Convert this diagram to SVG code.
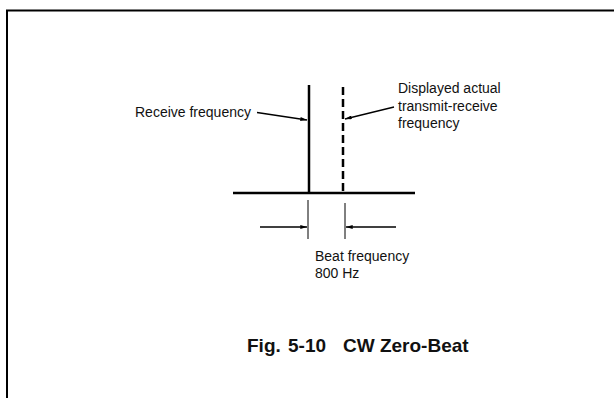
<svg xmlns="http://www.w3.org/2000/svg" width="614" height="398" viewBox="0 0 614 398">
<defs>
<marker id="ah" viewBox="0 0 10 6" refX="10" refY="3" markerWidth="8" markerHeight="4" markerUnits="userSpaceOnUse" orient="auto"><path d="M0,0 L10,3 L0,6 z" fill="#000"/></marker>
</defs>
<style>
text{font-family:"Liberation Sans",Arial,sans-serif;font-size:14px;fill:#111}
.cap{font-size:19px;font-weight:bold}
.ln{stroke:#000;fill:none}
</style>
<rect width="614" height="398" fill="#fff"/>
<g id="frame"><path class="ln" d="M7,398 V10.5 H614" stroke-width="2"/></g>
<g id="baseline"><line class="ln" x1="233" y1="193" x2="415" y2="193" stroke-width="2.5"/></g>
<g id="receive-line"><line class="ln" x1="309" y1="85" x2="309" y2="193" stroke-width="2.5"/></g>
<g id="displayed-line"><line class="ln" x1="343" y1="87" x2="343" y2="193" stroke-width="2.5" stroke-dasharray="8,4"/></g>
<g id="labels">
<text x="135" y="117">Receive frequency</text>
<text x="398" y="93">Displayed actual</text>
<text x="398" y="111">transmit-receive</text>
<text x="398" y="128">frequency</text>
<text x="315" y="261">Beat frequency</text>
<text x="315" y="278">800 Hz</text>
</g>
<g id="connectors">
<line class="ln" x1="257" y1="112.5" x2="307" y2="120" stroke-width="1.3" marker-end="url(#ah)"/>
<line class="ln" x1="394" y1="107" x2="345" y2="119" stroke-width="1.3" marker-end="url(#ah)"/>
<line class="ln" x1="308" y1="200" x2="308" y2="239" stroke-width="1"/>
<line class="ln" x1="345" y1="203" x2="345" y2="239" stroke-width="1"/>
<line class="ln" x1="260" y1="227" x2="307" y2="227" stroke-width="1.3" marker-end="url(#ah)"/>
<line class="ln" x1="396" y1="227" x2="346" y2="227" stroke-width="1.3" marker-end="url(#ah)"/>
</g>
<g id="caption"><text class="cap" x="247" y="352">Fig.<tspan x="288">5-10</tspan><tspan x="343">CW Zero-Beat</tspan></text></g>
</svg>
